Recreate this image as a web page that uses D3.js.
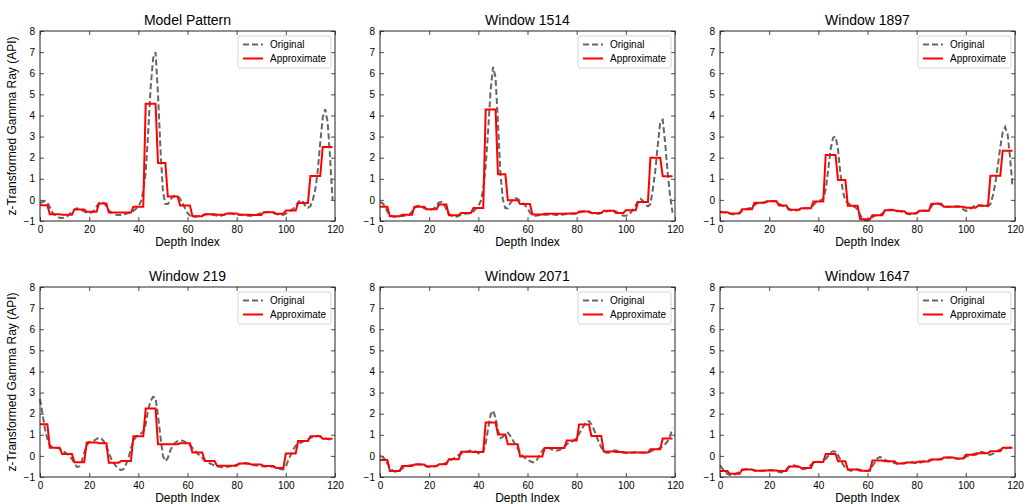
<!DOCTYPE html>
<html>
<head>
<meta charset="utf-8">
<script src="https://cdn.jsdelivr.net/npm/d3@7"></script>
<style>
  body { margin: 0; background: #fff; }
  text { font-family: "Liberation Sans", Arial, sans-serif; fill: #000; }
</style>
</head>
<body>
<div id="chart"></div>
<script>
const titles = ['Model Pattern', 'Window 1514', 'Window 1897', 'Window 219', 'Window 2071', 'Window 1647'];
const xTicks = [0, 20, 40, 60, 80, 100, 120];
const yTicks = [-1, 0, 1, 2, 3, 4, 5, 6, 7, 8];
// segment start indices of the piecewise approximation (25 segments over 120 samples)
const segmentStarts = [0, 4, 9, 14, 19, 24, 28, 33, 38, 43, 48, 52, 57, 62, 67, 72, 76, 81, 86, 91, 96, 100, 105, 110, 115];

const modelOriginal = [-0.15,-0.1,-0.05,-0.12,-0.35,-0.6,-0.72,-0.8,-0.85,-0.86,-0.84,-0.78,-0.68,-0.56,-0.46,-0.4,-0.42,-0.48,-0.55,-0.6,
  -0.62,-0.6,-0.5,-0.32,-0.15,-0.1,-0.15,-0.3,-0.5,-0.6,-0.66,-0.7,-0.72,-0.72,-0.7,-0.66,-0.62,-0.58,-0.52,-0.42,
  -0.3,-0.1,0.4,1.3,3.2,5.3,6.7,7.0,5.0,2.4,0.4,-0.2,-0.2,0.0,0.15,0.22,0.18,0.05,-0.15,-0.4,
  -0.62,-0.75,-0.8,-0.8,-0.78,-0.75,-0.72,-0.7,-0.68,-0.68,-0.7,-0.72,-0.75,-0.76,-0.74,-0.7,-0.66,-0.64,-0.65,-0.68,
  -0.7,-0.7,-0.7,-0.72,-0.74,-0.75,-0.75,-0.73,-0.7,-0.66,-0.62,-0.6,-0.58,-0.57,-0.58,-0.62,-0.66,-0.7,-0.72,-0.7,
  -0.65,-0.58,-0.5,-0.42,-0.3,-0.12,0.0,-0.1,-0.3,-0.38,-0.3,0.0,0.5,1.4,2.7,3.9,4.3,3.7,2.0,0.0];
const modelApprox = [-0.25,-0.68,-0.7,-0.45,-0.56,-0.17,-0.6,-0.6,-0.33,4.55,1.75,0.16,-0.26,-0.77,-0.68,-0.7,-0.64,-0.7,-0.72,-0.58,-0.66,-0.5,-0.15,1.13,2.5];

const w1514Original = [-0.1,-0.15,-0.3,-0.55,-0.72,-0.78,-0.8,-0.8,-0.78,-0.76,-0.75,-0.74,-0.7,-0.55,-0.38,-0.3,-0.27,-0.32,-0.4,-0.45,
  -0.48,-0.46,-0.4,-0.25,-0.12,-0.1,-0.2,-0.45,-0.65,-0.75,-0.8,-0.8,-0.76,-0.7,-0.66,-0.64,-0.64,-0.62,-0.55,-0.42,
  -0.3,-0.05,0.5,1.6,3.3,5.2,6.3,5.8,3.6,1.2,0.0,-0.4,-0.4,-0.15,0.0,0.08,0.05,-0.05,-0.15,-0.25,
  -0.4,-0.6,-0.72,-0.75,-0.74,-0.72,-0.7,-0.7,-0.7,-0.69,-0.68,-0.7,-0.72,-0.72,-0.7,-0.68,-0.67,-0.66,-0.66,-0.65,
  -0.63,-0.6,-0.56,-0.54,-0.55,-0.58,-0.62,-0.65,-0.67,-0.66,-0.62,-0.58,-0.55,-0.53,-0.5,-0.5,-0.55,-0.62,-0.7,-0.75,
  -0.75,-0.72,-0.6,-0.45,-0.25,-0.05,0.05,-0.05,-0.25,-0.3,-0.2,0.5,1.4,2.6,3.7,3.8,2.7,1.3,0.2,-0.6];
const w1514Approx = [-0.33,-0.77,-0.7,-0.33,-0.44,-0.22,-0.73,-0.62,-0.38,4.28,1.22,-0.02,-0.2,-0.69,-0.66,-0.66,-0.65,-0.55,-0.62,-0.52,-0.62,-0.49,-0.1,2.0,1.12];

const w1897Original = [-0.55,-0.58,-0.6,-0.62,-0.65,-0.68,-0.68,-0.65,-0.6,-0.52,-0.46,-0.42,-0.4,-0.35,-0.25,-0.17,-0.14,-0.13,-0.12,-0.1,
  -0.07,-0.05,-0.05,-0.1,-0.18,-0.26,-0.3,-0.35,-0.42,-0.48,-0.5,-0.5,-0.47,-0.43,-0.4,-0.4,-0.4,-0.36,-0.25,-0.12,
  -0.05,-0.02,0.05,0.5,1.4,2.4,2.95,3.0,2.4,1.2,0.4,-0.05,-0.15,-0.22,-0.3,-0.35,-0.45,-0.7,-0.92,-0.98,
  -0.98,-0.92,-0.82,-0.75,-0.72,-0.7,-0.65,-0.55,-0.48,-0.47,-0.47,-0.48,-0.5,-0.53,-0.56,-0.6,-0.65,-0.68,-0.68,-0.65,
  -0.6,-0.55,-0.52,-0.5,-0.52,-0.5,-0.3,-0.18,-0.15,-0.18,-0.25,-0.3,-0.33,-0.33,-0.32,-0.32,-0.3,-0.3,-0.35,-0.45,
  -0.52,-0.5,-0.42,-0.32,-0.28,-0.25,-0.25,-0.28,-0.3,-0.3,-0.2,0.2,0.8,1.6,2.5,3.2,3.45,3.1,2.0,0.6];
const w1897Approx = [-0.58,-0.64,-0.44,-0.14,-0.06,-0.27,-0.47,-0.4,-0.08,2.13,0.94,-0.28,-0.92,-0.73,-0.49,-0.54,-0.64,-0.51,-0.18,-0.32,-0.33,-0.37,-0.28,1.14,2.33];

const w219Original = [2.7,2.0,1.3,0.8,0.5,0.42,0.4,0.38,0.33,0.25,0.18,0.1,0.0,-0.15,-0.35,-0.52,-0.5,-0.25,0.15,0.5,
  0.66,0.68,0.72,0.8,0.87,0.82,0.68,0.45,0.15,-0.15,-0.35,-0.5,-0.62,-0.68,-0.62,-0.4,-0.1,0.35,0.72,0.9,
  1.0,1.05,1.15,1.5,2.2,2.6,2.8,2.75,1.9,0.9,0.0,-0.25,-0.1,0.25,0.5,0.62,0.7,0.74,0.72,0.66,
  0.58,0.5,0.38,0.25,0.12,0.0,-0.1,-0.2,-0.28,-0.35,-0.4,-0.45,-0.49,-0.52,-0.54,-0.54,-0.52,-0.5,-0.48,-0.45,
  -0.42,-0.38,-0.35,-0.34,-0.35,-0.38,-0.42,-0.44,-0.45,-0.46,-0.48,-0.5,-0.5,-0.5,-0.5,-0.52,-0.56,-0.6,-0.63,-0.64,
  -0.5,-0.2,0.05,0.3,0.48,0.56,0.62,0.68,0.72,0.78,0.85,0.9,0.93,0.95,0.93,0.88,0.83,0.8,0.78,0.8];
const w219Approx = [1.5,0.39,0.09,-0.3,0.64,0.6,-0.33,-0.24,0.93,2.24,0.55,0.55,0.6,0.16,-0.24,-0.47,-0.47,-0.36,-0.41,-0.48,-0.57,0.11,0.7,0.93,0.81];

const w2071Original = [0.0,-0.05,-0.15,-0.35,-0.55,-0.68,-0.74,-0.76,-0.7,-0.6,-0.52,-0.48,-0.45,-0.43,-0.42,-0.4,-0.4,-0.42,-0.46,-0.5,
  -0.53,-0.52,-0.5,-0.46,-0.42,-0.4,-0.38,-0.32,-0.25,-0.18,-0.12,-0.05,0.05,0.12,0.18,0.2,0.22,0.25,0.25,0.2,
  0.12,0.1,0.2,0.6,1.3,1.95,2.15,1.8,1.2,0.85,0.9,1.05,1.1,0.95,0.75,0.55,0.35,0.15,0.0,-0.1,
  -0.18,-0.25,-0.3,-0.3,-0.15,0.05,0.25,0.38,0.4,0.36,0.3,0.26,0.25,0.28,0.35,0.45,0.55,0.62,0.68,0.75,
  0.85,1.05,1.25,1.45,1.62,1.65,1.5,1.25,0.95,0.65,0.4,0.22,0.15,0.15,0.2,0.25,0.25,0.22,0.18,0.15,
  0.14,0.14,0.15,0.16,0.17,0.17,0.16,0.15,0.15,0.16,0.2,0.26,0.3,0.33,0.38,0.45,0.55,0.7,0.95,1.3];
const w2071Approx = [-0.19,-0.71,-0.48,-0.41,-0.49,-0.4,-0.16,0.2,0.19,1.58,1.01,0.55,-0.03,-0.03,0.37,0.37,0.73,1.49,0.94,0.21,0.19,0.16,0.16,0.31,0.82];

const w1647Original = [-0.45,-0.6,-0.75,-0.85,-0.9,-0.9,-0.88,-0.82,-0.75,-0.68,-0.64,-0.62,-0.63,-0.65,-0.68,-0.7,-0.7,-0.7,-0.69,-0.68,
  -0.67,-0.67,-0.69,-0.72,-0.76,-0.78,-0.75,-0.65,-0.55,-0.47,-0.45,-0.48,-0.53,-0.6,-0.63,-0.6,-0.52,-0.42,-0.33,-0.28,
  -0.28,-0.3,-0.28,-0.15,0.0,0.15,0.22,0.2,0.05,-0.2,-0.4,-0.55,-0.65,-0.7,-0.68,-0.65,-0.64,-0.66,-0.7,-0.72,
  -0.72,-0.65,-0.48,-0.3,-0.12,-0.05,-0.1,-0.18,-0.24,-0.28,-0.3,-0.34,-0.37,-0.38,-0.36,-0.33,-0.31,-0.3,-0.3,-0.32,
  -0.34,-0.33,-0.3,-0.26,-0.22,-0.2,-0.18,-0.17,-0.17,-0.16,-0.14,-0.11,-0.09,-0.08,-0.08,-0.1,-0.12,-0.14,-0.15,-0.12,
  -0.05,0.0,0.04,0.08,0.12,0.17,0.2,0.18,0.12,0.06,0.05,0.1,0.18,0.25,0.3,0.32,0.35,0.38,0.4,0.4];
const w1647Approx = [-0.71,-0.85,-0.64,-0.7,-0.69,-0.72,-0.5,-0.57,-0.29,0.09,-0.25,-0.65,-0.7,-0.22,-0.25,-0.36,-0.31,-0.26,-0.17,-0.08,-0.12,0.05,0.12,0.22,0.38];

const originals = [modelOriginal, w1514Original, w1897Original, w219Original, w2071Original, w1647Original];
const approxes = [modelApprox, w1514Approx, w1897Approx, w219Approx, w2071Approx, w1647Approx];

const W = 1027, H = 504;
const plotW = 295, plotH = 190;
const colLeft = [40, 380, 720];
const rowTop = [31, 287];

const svg = d3.select('#chart').append('svg')
  .attr('width', W)
  .attr('height', H);

const x = d3.scaleLinear().domain([0, 120]).range([0, plotW]);
const y = d3.scaleLinear().domain([-1, 8]).range([plotH, 0]);

// expand the segment values to one value per depth index
function expandSegments(vals) {
  const out = [];
  for (let i = 0; i < 120; i++) {
    const s = d3.bisectRight(segmentStarts, i) - 1;
    out.push(vals[s]);
  }
  return out;
}

const line = d3.line()
  .x((d, i) => x(i))
  .y(d => y(d));

titles.forEach((title, k) => {
  const col = k % 3, row = Math.floor(k / 3);
  const g = svg.append('g')
    .attr('transform', `translate(${colLeft[col]},${rowTop[row]})`);

  // axes with inward ticks on all four sides
  const bottom = g.append('g')
    .attr('transform', `translate(0,${plotH})`)
    .call(d3.axisBottom(x).tickValues(xTicks).tickSizeInner(-4).tickSizeOuter(0).tickPadding(5));
  const top = g.append('g')
    .call(d3.axisTop(x).tickValues(xTicks).tickSizeInner(-4).tickSizeOuter(0).tickFormat(''));
  const left = g.append('g')
    .call(d3.axisLeft(y).tickValues(yTicks).tickSizeInner(-4).tickSizeOuter(0).tickPadding(5));
  const right = g.append('g')
    .attr('transform', `translate(${plotW},0)`)
    .call(d3.axisRight(y).tickValues(yTicks).tickSizeInner(-4).tickSizeOuter(0).tickFormat(''));

  [bottom, top, left, right].forEach(a => {
    a.select('.domain').remove();
    a.selectAll('line').attr('stroke', '#222').attr('stroke-width', 0.8);
    a.selectAll('text').attr('font-size', 10).attr('fill', '#000')
      .style('font-family', '"Liberation Sans", Arial, sans-serif');
  });

  g.append('path')
    .attr('fill', 'none')
    .attr('stroke', '#666')
    .attr('stroke-width', 2)
    .attr('stroke-dasharray', '6,3')
    .attr('d', line(originals[k]));

  g.append('path')
    .attr('fill', 'none')
    .attr('stroke', '#ff0000')
    .attr('stroke-width', 2)
    .attr('stroke-linejoin', 'miter')
    .attr('d', line(expandSegments(approxes[k])));

  g.append('rect')
    .attr('x', 0).attr('y', 0)
    .attr('width', plotW).attr('height', plotH)
    .attr('fill', 'none')
    .attr('stroke', '#222')
    .attr('stroke-width', 1);

  g.append('text')
    .attr('x', plotW / 2)
    .attr('y', -6)
    .attr('text-anchor', 'middle')
    .attr('font-size', 14)
    .text(title);

  g.append('text')
    .attr('x', plotW / 2)
    .attr('y', plotH + 25)
    .attr('text-anchor', 'middle')
    .attr('font-size', 12)
    .text('Depth Index');

  if (col === 0) {
    g.append('text')
      .attr('transform', `translate(-24,${plotH / 2}) rotate(-90)`)
      .attr('text-anchor', 'middle')
      .attr('font-size', 12)
      .text('z-Transformed Gamma Ray (API)');
  }

  // legend
  const lg = g.append('g').attr('transform', `translate(198,5)`);
  lg.append('rect')
    .attr('width', 93).attr('height', 32)
    .attr('rx', 2)
    .attr('fill', '#fff')
    .attr('fill-opacity', 0.8)
    .attr('stroke', '#ccc')
    .attr('stroke-width', 0.8);
  lg.append('line')
    .attr('x1', 5).attr('x2', 25).attr('y1', 8.5).attr('y2', 8.5)
    .attr('stroke', '#666').attr('stroke-width', 2).attr('stroke-dasharray', '6,3');
  lg.append('text')
    .attr('x', 32).attr('y', 12)
    .attr('font-size', 10)
    .text('Original');
  lg.append('line')
    .attr('x1', 5).attr('x2', 25).attr('y1', 22.5).attr('y2', 22.5)
    .attr('stroke', '#ff0000').attr('stroke-width', 2);
  lg.append('text')
    .attr('x', 32).attr('y', 26)
    .attr('font-size', 10)
    .text('Approximate');
});
</script>
</body>
</html>
